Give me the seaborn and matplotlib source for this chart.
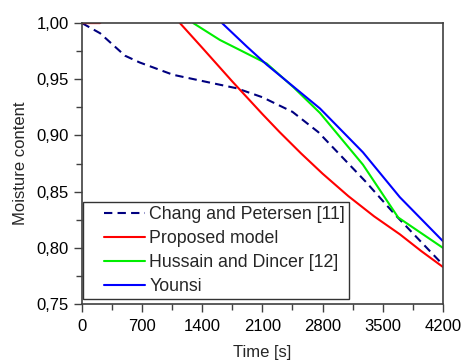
import numpy as np
import pandas as pd
import matplotlib
matplotlib.use("Agg")
import matplotlib.pyplot as plt
import matplotlib.ticker as mticker
from matplotlib.offsetbox import DrawingArea
import seaborn as sns

# Data
chang_t = [0, 210, 500, 670, 1060, 1490, 1800, 2100, 2450, 2750, 3300, 3650, 4200]
chang_m = [1.000, 0.991, 0.971, 0.965, 0.954, 0.947, 0.942, 0.934, 0.921, 0.903, 0.859, 0.829, 0.785]

proposed_t = [0, 210, 700, 1140, 1400, 1750, 2100, 2300, 2550, 2800, 3100, 3400, 3700, 3950, 4200]
proposed_m = [1.000, 1.000, 1.040, 1.000, 0.978, 0.948, 0.919, 0.903, 0.884, 0.866, 0.846, 0.828,
              0.812, 0.797, 0.783]

hussain_t = [1295, 1605, 2150, 2460, 2770, 3270, 3680, 4200]
hussain_m = [1.000, 0.985, 0.964, 0.943, 0.920, 0.874, 0.827, 0.800]

younsi_t = [1630, 1920, 2150, 2770, 3270, 3700, 4200]
younsi_m = [1.000, 0.979, 0.963, 0.924, 0.885, 0.845, 0.806]

series = [
    ("Chang and Petersen [11]", chang_t, chang_m, "#000080", True),
    ("Proposed model", proposed_t, proposed_m, "#ff0000", False),
    ("Hussain and Dincer [12]", hussain_t, hussain_m, "#00ee00", False),
    ("Younsi", younsi_t, younsi_m, "#0000ff", False),
]

sns.set_style("ticks")
plt.rcParams["font.family"] = ["Liberation Sans", "DejaVu Sans"]

fig = plt.figure(figsize=(4.62, 3.61), dpi=100)
ax = fig.add_axes([0.1775, 0.158, 0.781, 0.778])

for name, t, m, color, dashed in series:
    df = pd.DataFrame({"time": t, "moisture": m})
    sns.lineplot(data=df, x="time", y="moisture", ax=ax, color=color, lw=1.5,
                 estimator=None, sort=False, label=name)
    if dashed:
        ax.lines[-1].set_dashes((4, 2.5))

ax.set_xlim(0, 4200)
ax.set_ylim(0.75, 1.00)
ax.set_xticks(np.arange(0, 4201, 700))
ax.set_yticks(np.arange(0.75, 1.001, 0.05))
ax.xaxis.set_minor_locator(mticker.MultipleLocator(350))
ax.yaxis.set_minor_locator(mticker.MultipleLocator(0.025))
ax.yaxis.set_major_formatter(mticker.FuncFormatter(lambda v, p: f"{v:.2f}".replace(".", ",")))
ax.tick_params(which="major", direction="out", length=5.5, width=1, labelsize=12,
               colors="#404040", labelcolor="black", pad=4)
ax.tick_params(axis="x", which="major", pad=5.5)
ax.tick_params(which="minor", direction="out", length=4, width=1, colors="#404040")
for s in ax.spines.values():
    s.set_linewidth(1.2)
    s.set_color("#404040")

ax.set_xlabel("Time [s]", fontsize=12, labelpad=8)
ax.set_ylabel("Moisture content", fontsize=12, labelpad=6)

leg = ax.legend(loc="lower left", bbox_to_anchor=(0.003, 0.018), fontsize=12.8,
                frameon=True, fancybox=False, edgecolor="#333333", framealpha=1,
                handlelength=2.3, handletextpad=0.22, labelspacing=0.4,
                borderpad=0.2, borderaxespad=0)
leg.get_frame().set_linewidth(1.0)

# extra left padding in front of the handles, as in the reference
try:
    for col in leg._legend_handle_box.get_children():
        for item in col.get_children():
            item._children.insert(0, DrawingArea(10, 1))
except Exception:
    pass

fig.savefig("out.png", dpi=100)
